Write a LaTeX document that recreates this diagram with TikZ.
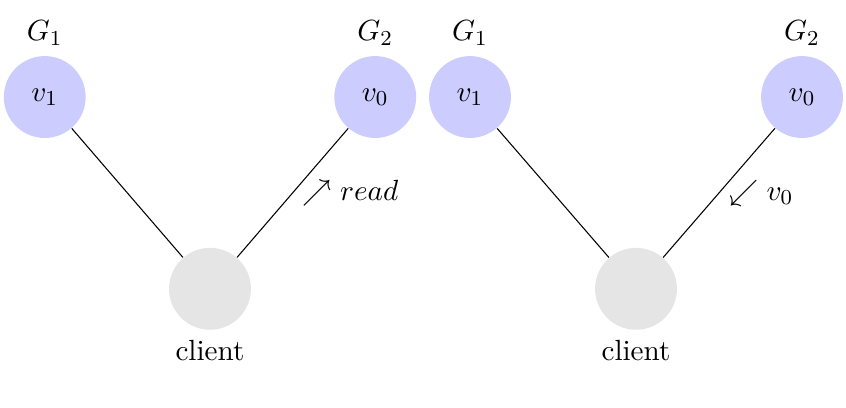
\documentclass[tikz,border=0pt,11pt]{standalone}
\usepackage{tikz}
\tikzset{
  server/.style={circle,fill=blue!20,minimum size=1.08cm,inner sep=0pt},
  user/.style={circle,fill=gray!20,minimum size=1.08cm,inner sep=0pt},
}
\begin{document}
\begin{tikzpicture}
  \useasboundingbox (0,0) rectangle (11.16,5.38);
  % before the read
  \node[server,label=above:$G_1$] (s1) at (0.59,4.1) {$v_1$};
  \node[server,label=above:$G_2$] (s2) at (4.95,4.1) {$v_0$};
  \node[user,label=below:client] (c) at (2.77,1.57) {};
  \draw (s1) -- (c);
  \draw (s2) -- (c) node[midway,right] {$\nearrow read$};
  \begin{scope}[shift={(5.61,0)}]
    % the answer
    \node[server,label=above:$G_1$] (t1) at (0.59,4.1) {$v_1$};
    \node[server,label=above:$G_2$] (t2) at (4.97,4.1) {$v_0$};
    \node[user,label=below:client] (d) at (2.78,1.57) {};
    \draw (t1) -- (d);
    \draw (t2) -- (d) node[midway,right] {$\swarrow v_0$};
  \end{scope}
\end{tikzpicture}
\end{document}
